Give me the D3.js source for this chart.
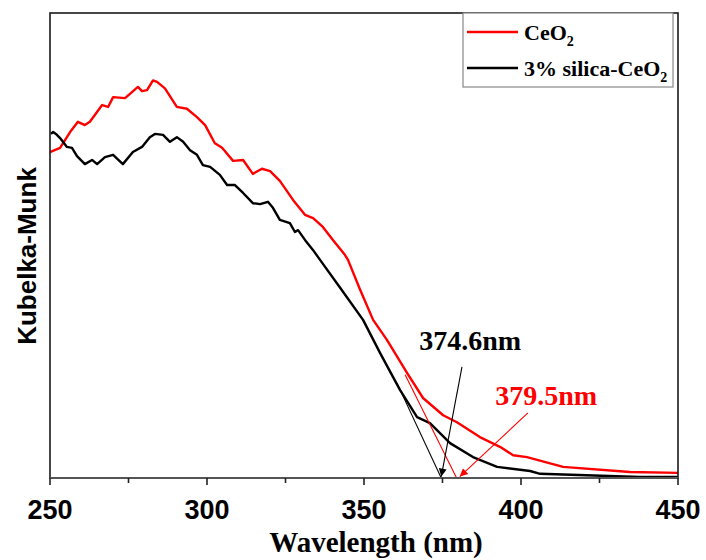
<!DOCTYPE html>
<html>
<head>
<meta charset="utf-8">
<script src="https://cdn.jsdelivr.net/npm/d3@7/dist/d3.min.js"></script>
<style>
  html, body { margin: 0; padding: 0; background: #fff; }
  svg { display: block; }
</style>
</head>
<body>
<svg id="chart" width="706" height="560"></svg>
<script>
// Kubelka-Munk spectra (wavelength in nm, K-M function in arbitrary units)
const ceo2Wavelength = [250.0, 253.2, 256.4, 258.9, 261.1, 262.7, 266.6, 268.5, 270.1, 273.9, 276.1, 278.0, 279.3, 280.9, 282.8, 284.1, 286.6, 290.4, 293.6, 296.8, 299.4, 302.5, 304.8, 308.3, 311.5, 314.6, 317.5, 320.1, 323.2, 327.4, 331.2, 333.8, 336.9, 340.1, 343.9, 344.9, 348.7, 352.9, 357.3, 363.7, 368.8, 375.2, 379.6, 386.9, 393.3, 397.5, 401.9, 413.4, 434.7, 450.0];
const ceo2KM = [70.1, 71.0, 74.4, 76.6, 75.9, 76.6, 80.2, 79.8, 81.9, 81.7, 83.0, 84.1, 83.2, 83.4, 85.5, 85.2, 83.8, 79.8, 79.4, 77.6, 75.9, 72.0, 71.0, 68.2, 68.4, 65.4, 66.5, 66.0, 63.9, 59.8, 56.6, 55.9, 54.0, 51.2, 48.0, 46.9, 40.6, 34.0, 29.7, 22.6, 17.2, 13.5, 12.0, 8.8, 6.7, 4.9, 4.5, 2.4, 1.3, 1.1];

const silicaWavelength = [250.3, 251.0, 252.2, 253.2, 255.4, 257.0, 258.6, 261.1, 263.4, 265.0, 267.5, 270.1, 273.2, 276.4, 279.3, 281.8, 283.4, 286.0, 288.2, 290.4, 292.4, 294.6, 296.8, 298.7, 301.0, 304.1, 306.4, 308.9, 311.5, 314.6, 316.9, 319.4, 321.0, 323.2, 326.4, 328.0, 329.0, 331.2, 333.8, 336.0, 342.4, 349.7, 355.1, 361.5, 366.9, 371.0, 377.4, 384.7, 392.4, 402.9, 406.1, 437.9, 450.0];
const silicaKM = [74.0, 74.4, 73.8, 73.1, 71.2, 71.0, 69.2, 67.5, 68.4, 67.5, 69.0, 69.5, 67.5, 70.1, 71.2, 73.3, 74.0, 73.8, 72.3, 73.3, 72.3, 70.5, 69.5, 67.3, 66.9, 65.2, 63.0, 63.0, 61.3, 59.1, 58.9, 59.4, 58.1, 55.5, 54.8, 52.9, 53.3, 51.2, 49.0, 46.9, 40.9, 34.0, 26.9, 18.9, 13.1, 11.8, 7.5, 4.5, 2.4, 1.5, 0.9, 0.2, 0.2];

// Band-gap edge tangents: upper point on the curve and the baseline intercept
const edgeWavelength = [379.5, 374.6];          // CeO2, 3% silica-CeO2
const tangentStart = [[363.1, 22.2], [360.5, 20.4]];
const arrowStart = [[402.2, 14.0], [381.2, 23.9]];
const labelPos = [[408.0, 15.7], [383.8, 27.5]];
const edgeColors = ["#ff0000", "#000000"];

const xTicks = [250, 300, 350, 400, 450];
const xMinorTicks = [275, 325, 375, 425];
const seriesNames = ["CeO", "3% silica-CeO"];
const seriesColors = ["#ff0000", "#000000"];

const svg = d3.select("#chart");
const plot = { left: 50, right: 678, top: 13, bottom: 478 };

const x = d3.scaleLinear().domain([250, 450]).range([plot.left, plot.right]);
const y = d3.scaleLinear().domain([0, 100]).range([plot.bottom, plot.top]);

// arrowheads
const defs = svg.append("defs");
edgeColors.forEach((c, i) => {
  defs.append("marker")
    .attr("id", "arrow" + i)
    .attr("viewBox", "0 0 10 10")
    .attr("refX", 10).attr("refY", 5)
    .attr("markerWidth", 10).attr("markerHeight", 8)
    .attr("markerUnits", "userSpaceOnUse")
    .attr("orient", "auto")
    .append("path").attr("d", "M0,0 L10,5 L0,10 Z").attr("fill", c);
});

const line = d3.line().x(d => x(d[0])).y(d => y(d[1]));

// spectra
const series = [
  d3.zip(ceo2Wavelength, ceo2KM),
  d3.zip(silicaWavelength, silicaKM)
];
series.forEach((pts, i) => {
  svg.append("path")
    .datum(pts)
    .attr("d", line)
    .attr("fill", "none")
    .attr("stroke", seriesColors[i])
    .attr("stroke-width", 2.4)
    .attr("stroke-linejoin", "round");
});

// tangent lines to the absorption edge
edgeWavelength.forEach((w, i) => {
  svg.append("path")
    .datum([tangentStart[i], [w, 0]])
    .attr("d", line)
    .attr("fill", "none")
    .attr("stroke", edgeColors[i])
    .attr("stroke-width", 1.1);
});

// arrows pointing at the intercepts
edgeWavelength.forEach((w, i) => {
  svg.append("path")
    .datum([arrowStart[i], [w + (i === 0 ? 1.0 : 0), 0.3]])
    .attr("d", line)
    .attr("fill", "none")
    .attr("stroke", edgeColors[i])
    .attr("stroke-width", 1.1)
    .attr("marker-end", "url(#arrow" + i + ")");
});

// intercept labels
edgeWavelength.forEach((w, i) => {
  svg.append("text")
    .attr("x", x(labelPos[i][0]))
    .attr("y", y(labelPos[i][1]))
    .attr("text-anchor", "middle")
    .attr("font-family", "'Liberation Serif', 'Times New Roman', serif")
    .attr("font-weight", "bold")
    .attr("font-size", 28)
    .attr("fill", edgeColors[i])
    .text(d3.format(".1f")(w) + "nm");
});

// frame
svg.append("rect")
  .attr("x", plot.left).attr("y", plot.top)
  .attr("width", plot.right - plot.left).attr("height", plot.bottom - plot.top)
  .attr("fill", "none").attr("stroke", "#1a1a1a").attr("stroke-width", 1.6);

// x axis
const xAxis = svg.append("g").attr("transform", `translate(0,${plot.bottom})`);
xAxis.append("line")
  .attr("x1", plot.left).attr("x2", plot.right)
  .attr("stroke", "#555").attr("stroke-width", 2.2);
xAxis.selectAll(".major").data(xTicks).join("line")
  .attr("x1", d => x(d)).attr("x2", d => x(d))
  .attr("y1", 0).attr("y2", 7)
  .attr("stroke", "#222").attr("stroke-width", 1.6);
xAxis.selectAll(".minor").data(xMinorTicks).join("line")
  .attr("x1", d => x(d)).attr("x2", d => x(d))
  .attr("y1", 0).attr("y2", 5)
  .attr("stroke", "#222").attr("stroke-width", 1.6);
xAxis.selectAll(".lbl").data(xTicks).join("text")
  .attr("x", d => x(d)).attr("y", 41)
  .attr("text-anchor", "middle")
  .attr("font-family", "'Liberation Sans', Arial, sans-serif")
  .attr("font-weight", "bold")
  .attr("font-size", 27)
  .attr("fill", "#000")
  .text(d => d);

// axis titles
svg.append("text")
  .attr("x", 376).attr("y", 552)
  .attr("text-anchor", "middle")
  .attr("font-family", "'Liberation Serif', 'Times New Roman', serif")
  .attr("font-weight", "bold")
  .attr("font-size", 29)
  .attr("fill", "#000")
  .text("Wavelength (nm)");

svg.append("text")
  .attr("transform", `translate(36,256) rotate(-90)`)
  .attr("text-anchor", "middle")
  .attr("font-family", "'Liberation Sans', Arial, sans-serif")
  .attr("font-weight", "bold")
  .attr("font-size", 26)
  .attr("fill", "#000")
  .text("Kubelka-Munk");

// legend
const legend = svg.append("g");
legend.append("rect")
  .attr("x", 463).attr("y", plot.top)
  .attr("width", 210).attr("height", 74)
  .attr("fill", "#fff").attr("stroke", "#888").attr("stroke-width", 1.2);
seriesNames.forEach((name, i) => {
  const ly = 32 + i * 36;
  legend.append("line")
    .attr("x1", 467).attr("x2", 518)
    .attr("y1", ly).attr("y2", ly)
    .attr("stroke", seriesColors[i]).attr("stroke-width", 2.4);
  const t = legend.append("text")
    .attr("x", 524).attr("y", ly + 8)
    .attr("font-family", "'Liberation Serif', 'Times New Roman', serif")
    .attr("font-weight", "bold")
    .attr("font-size", 22)
    .attr("fill", "#000");
  t.append("tspan").text(name);
  t.append("tspan").attr("dy", 6).attr("font-size", 14).text("2");
});
</script>
</body>
</html>
